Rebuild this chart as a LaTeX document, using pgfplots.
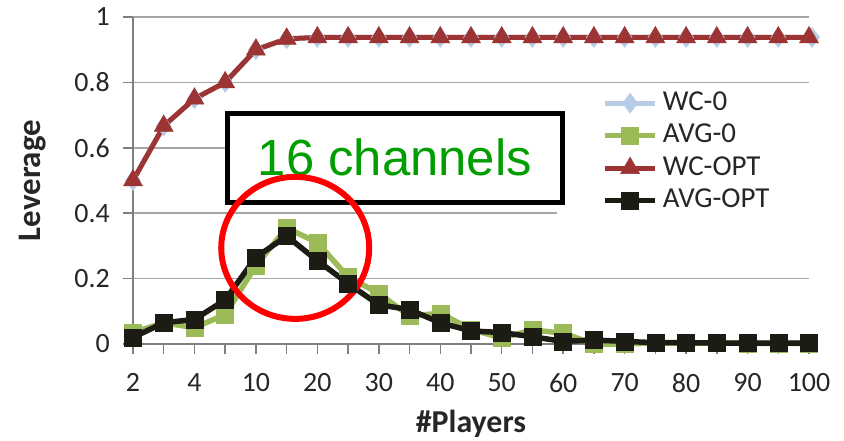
\documentclass[border=0pt]{standalone}
\usepackage{pgfplots}
\pgfplotsset{compat=1.18}
\usepackage{fontspec}
\setmainfont{Carlito}
\newfontfamily\arialfont{Liberation Sans}
\definecolor{wczero}{HTML}{B7CCE6}
\definecolor{avgzero}{HTML}{9BBB59}
\definecolor{wcopt}{HTML}{9B3433}
\definecolor{avgopt}{HTML}{1C1C14}
\definecolor{axisgray}{HTML}{7F7F7F}
\definecolor{gridgray}{HTML}{A6A6A6}
\definecolor{chgreen}{HTML}{009E00}
\begin{document}
\begin{tikzpicture}
\begin{axis}[
  scale only axis, width=676bp, height=327bp,
  xmin=0, xmax=22, ymin=0, ymax=1,
  xtick={0,...,22},
  xticklabels={2,,4,,10,,20,,30,,40,,50,,60,,70,,80,,90,,100},
  ytick={0,0.2,0.4,0.6,0.8,1},
  yticklabels={0,0.2,0.4,0.6,0.8,1},
  axis lines*=left,
  axis line style={draw=axisgray, line width=1.5bp},
  tick style={draw=axisgray, line width=1.5bp},
  major tick length=10bp,
  tick align=outside,
  ymajorgrids, grid style={draw=gridgray, line width=1.5bp},
  clip=false,
  /pgf/number format/assume math mode=true,
  ticklabel style={font=\fontsize{28}{33}\selectfont, text=black!85},
  yticklabel style={inner sep=3bp, xshift=-10bp},
  xticklabel style={inner sep=3bp, yshift=-16bp},
  ylabel={Leverage},
  ylabel style={at={(axis description cs:-0.149,0.5)}, anchor=center, font=\fontsize{33}{39}\selectfont\bfseries, text=black!85},
  xlabel={\#Players},
  xlabel style={at={(axis description cs:0.5,-0.245)}, anchor=center, inner sep=0pt, font=\fontsize{32}{38}\selectfont\bfseries, text=black!85},
  legend style={at={(0.694,0.777)}, anchor=north west, draw=none, fill=none, inner sep=0pt,
    font=\fontsize{29}{34}\selectfont,
    nodes={inner xsep=0pt, inner ysep=0pt, text height=20bp, text depth=6bp, text=black!85},
    row sep=6.5bp},
  legend cell align=left,
  legend image code/.code={%
    \draw[mark repeat=2, mark phase=2, #1] plot coordinates {(0bp,0bp)(25bp,0bp)(50bp,0bp)};
    \path (55bp,0bp);},
]
\fill[white] (axis cs:13.8,0.394) rectangle (axis cs:22.3,0.783);
\addplot[wczero, line width=5bp, mark=diamond*, mark size=10bp, mark options={line width=0.5bp}] coordinates {
(0,0.5)(1,0.6667)(2,0.75)(3,0.8)(4,0.9)(5,0.9333)(6,0.9375)(7,0.9375)(8,0.9375)(9,0.9375)(10,0.9375)(11,0.9375)(12,0.9375)(13,0.9375)(14,0.9375)(15,0.9375)(16,0.9375)(17,0.9375)(18,0.9375)(19,0.9375)(20,0.9375)(21,0.9375)(22.1,0.9375)};
\addlegendentry{WC-0}
\addplot[avgzero, line width=5.5bp, mark=square*, mark size=8.5bp, mark options={line width=0.5bp}] coordinates {
(0,0.035)(1,0.065)(2,0.05)(3,0.09)(4,0.24)(5,0.355)(6,0.31)(7,0.205)(8,0.155)(9,0.085)(10,0.094)(11,0.045)(12,0.018)(13,0.043)(14,0.033)(15,0.0)(16,0.0)(17,0.003)(18,0.003)(19,0.003)(20,0.002)(21,0.002)(22,0.002)};
\addlegendentry{AVG-0}
\addplot[wcopt, line width=5bp, mark=triangle*, mark size=11bp, mark options={line width=0.5bp}] coordinates {
(0,0.5)(1,0.6667)(2,0.75)(3,0.8)(4,0.9)(5,0.9333)(6,0.9375)(7,0.9375)(8,0.9375)(9,0.9375)(10,0.9375)(11,0.9375)(12,0.9375)(13,0.9375)(14,0.9375)(15,0.9375)(16,0.9375)(17,0.9375)(18,0.9375)(19,0.9375)(20,0.9375)(21,0.9375)(22,0.9375)};
\addlegendentry{WC-OPT}
\addplot[avgopt, line width=5.5bp, mark=square*, mark size=8.5bp, mark options={line width=0.5bp}] coordinates {
(0,0.02)(1,0.065)(2,0.075)(3,0.135)(4,0.265)(5,0.33)(6,0.255)(7,0.185)(8,0.12)(9,0.105)(10,0.065)(11,0.04)(12,0.035)(13,0.022)(14,0.008)(15,0.012)(16,0.008)(17,0.004)(18,0.004)(19,0.003)(20,0.003)(21,0.003)(22,0.003)};
\addlegendentry{AVG-OPT}
\draw[black, line width=5bp, fill=white] (axis cs:3.06,0.434) rectangle (axis cs:13.98,0.706);
\node[font=\arialfont\fontsize{51}{61}\selectfont, text=chgreen] at (axis cs:8.52,0.570) {16 channels};
\draw[red, line width=6bp] (axis cs:5.28,0.294) ellipse [x radius=74bp, y radius=71bp];
\end{axis}
\pgfresetboundingbox
\path ([shift={(-133bp,-97bp)}]current axis.south west) rectangle ([shift={(35bp,17bp)}]current axis.north east);
\end{tikzpicture}
\end{document}
